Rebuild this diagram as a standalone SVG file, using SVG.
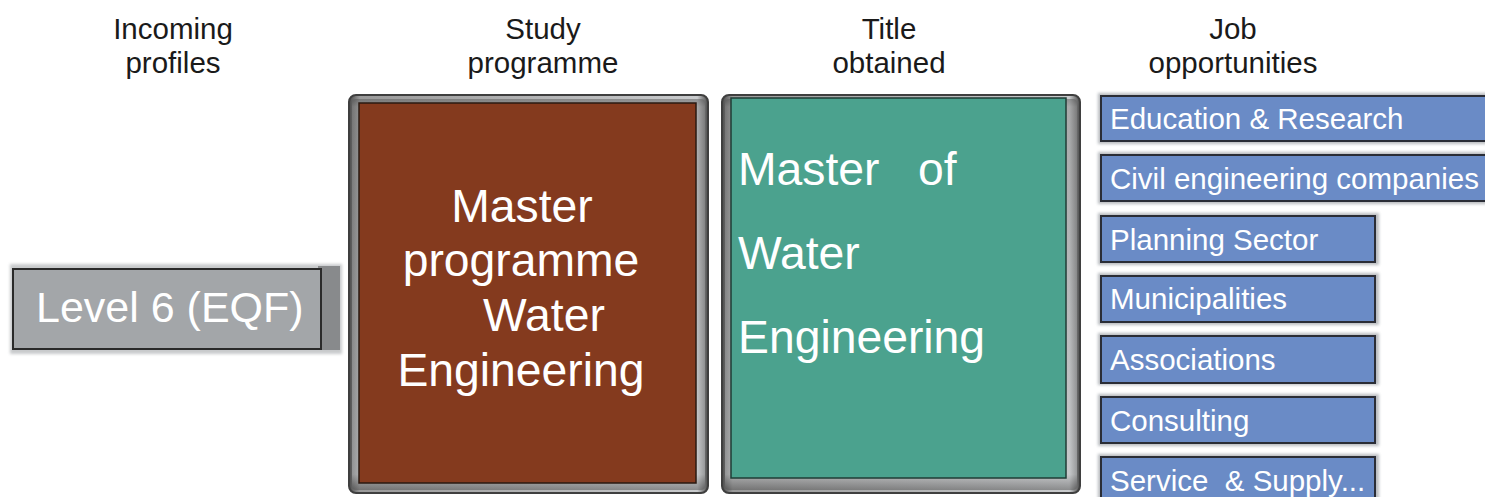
<svg xmlns="http://www.w3.org/2000/svg" width="1485" height="497" viewBox="0 0 1485 497">
<defs>
<linearGradient id="frameV" x1="0" y1="0" x2="1" y2="0">
<stop offset="0" stop-color="#4a4a4a"/>
<stop offset="0.03" stop-color="#9a9a9a"/>
<stop offset="0.97" stop-color="#c9cbcd"/>
<stop offset="1" stop-color="#4a4a4a"/>
</linearGradient>
<linearGradient id="frameH" x1="0" y1="0" x2="0" y2="1">
<stop offset="0" stop-color="#555"/>
<stop offset="0.02" stop-color="#888"/>
<stop offset="0.96" stop-color="#c4c6c8"/>
<stop offset="1" stop-color="#4d4d4d"/>
</linearGradient>
<filter id="soft" x="-5%" y="-10%" width="110%" height="120%">
<feGaussianBlur stdDeviation="1.5"/>
</filter>
</defs>
<style>
.hdr{font-family:"Liberation Sans",Arial,sans-serif;font-size:29.5px;fill:#1a1a1a;text-anchor:middle}
.big{font-family:"Liberation Sans",Arial,sans-serif;font-size:46.3px;fill:#ffffff}
.lvl{font-family:"Liberation Sans",Arial,sans-serif;font-size:43px;fill:#ffffff}
.job{font-family:"Liberation Sans",Arial,sans-serif;font-size:29.5px;fill:#ffffff}
.jobbox{fill:#6a8bc6;stroke:#2a2d36;stroke-width:2}
.jobshadow{fill:#b9bcc0;filter:url(#soft)}
.frame{stroke:#3f3f3f;stroke-width:2}
</style>
<rect width="1485" height="497" fill="#ffffff"/>

<g id="headers">
<text class="hdr" x="173" y="39">Incoming</text>
<text class="hdr" x="173" y="73">profiles</text>
<text class="hdr" x="543" y="39">Study</text>
<text class="hdr" x="543" y="73">programme</text>
<text class="hdr" x="889" y="39">Title</text>
<text class="hdr" x="889" y="73">obtained</text>
<text class="hdr" x="1233" y="39">Job</text>
<text class="hdr" x="1233" y="73">opportunities</text>
</g>

<g id="connectors"></g>

<g id="level6">
<rect x="10" y="264" width="332" height="90" fill="#c8cacc" filter="url(#soft)"/>
<rect x="318" y="266" width="22" height="84" fill="#888a8c"/>
<rect x="13" y="269" width="308" height="80" fill="#a3a6a9" stroke="#2a2a2a" stroke-width="2"/>
<text class="lvl" x="36" y="322">Level 6 (EQF)</text>
</g>

<g id="study">
<rect class="frame" x="349" y="95" width="359" height="398" rx="7" fill="url(#frameV)"/>
<rect x="352" y="99" width="353" height="391" rx="4" fill="url(#frameH)" opacity="0.5"/>
<rect x="359" y="103" width="337" height="380" fill="#843a1e" stroke="#2a1a12" stroke-width="1.5"/>
<text class="big" x="522" y="222" text-anchor="middle">Master</text>
<text class="big" x="521" y="276" text-anchor="middle">programme</text>
<text class="big" x="544" y="331" text-anchor="middle">Water</text>
<text class="big" x="521" y="386" text-anchor="middle">Engineering</text>
</g>

<g id="title">
<rect class="frame" x="722" y="95" width="358" height="398" rx="7" fill="url(#frameV)"/>
<rect x="725" y="99" width="352" height="391" rx="4" fill="url(#frameH)" opacity="0.5"/>
<rect x="731" y="98" width="335" height="380" fill="#4ba28e" stroke="#1f3d36" stroke-width="1.5"/>
<text class="big" x="738" y="185" xml:space="preserve">Master   of</text>
<text class="big" x="738" y="269">Water</text>
<text class="big" x="738" y="353">Engineering</text>
</g>

<g id="job-education">
<rect class="jobshadow" x="1098" y="93" width="390" height="51"/>
<rect class="jobbox" x="1101" y="96" width="390" height="45"/>
<text class="job" x="1110" y="129">Education &amp; Research</text>
</g>
<g id="job-civil">
<rect class="jobshadow" x="1098" y="152" width="390" height="52"/>
<rect class="jobbox" x="1101" y="155" width="390" height="46"/>
<text class="job" x="1110" y="189">Civil engineering companies</text>
</g>
<g id="job-planning">
<rect class="jobshadow" x="1098" y="213" width="281" height="52"/>
<rect class="jobbox" x="1101" y="216" width="274" height="46"/>
<text class="job" x="1110" y="250">Planning Sector</text>
</g>
<g id="job-municipalities">
<rect class="jobshadow" x="1098" y="273" width="281" height="52"/>
<rect class="jobbox" x="1101" y="276" width="274" height="46"/>
<text class="job" x="1110" y="309">Municipalities</text>
</g>
<g id="job-associations">
<rect class="jobshadow" x="1098" y="333" width="281" height="52"/>
<rect class="jobbox" x="1101" y="336" width="274" height="47"/>
<text class="job" x="1110" y="370">Associations</text>
</g>
<g id="job-consulting">
<rect class="jobshadow" x="1098" y="394" width="281" height="52"/>
<rect class="jobbox" x="1101" y="397" width="274" height="46"/>
<text class="job" x="1110" y="431">Consulting</text>
</g>
<g id="job-service">
<rect class="jobshadow" x="1098" y="454" width="281" height="52"/>
<rect class="jobbox" x="1101" y="457" width="274" height="46"/>
<text class="job" x="1110" y="491" xml:space="preserve">Service  &amp; Supply...</text>
</g>
</svg>
